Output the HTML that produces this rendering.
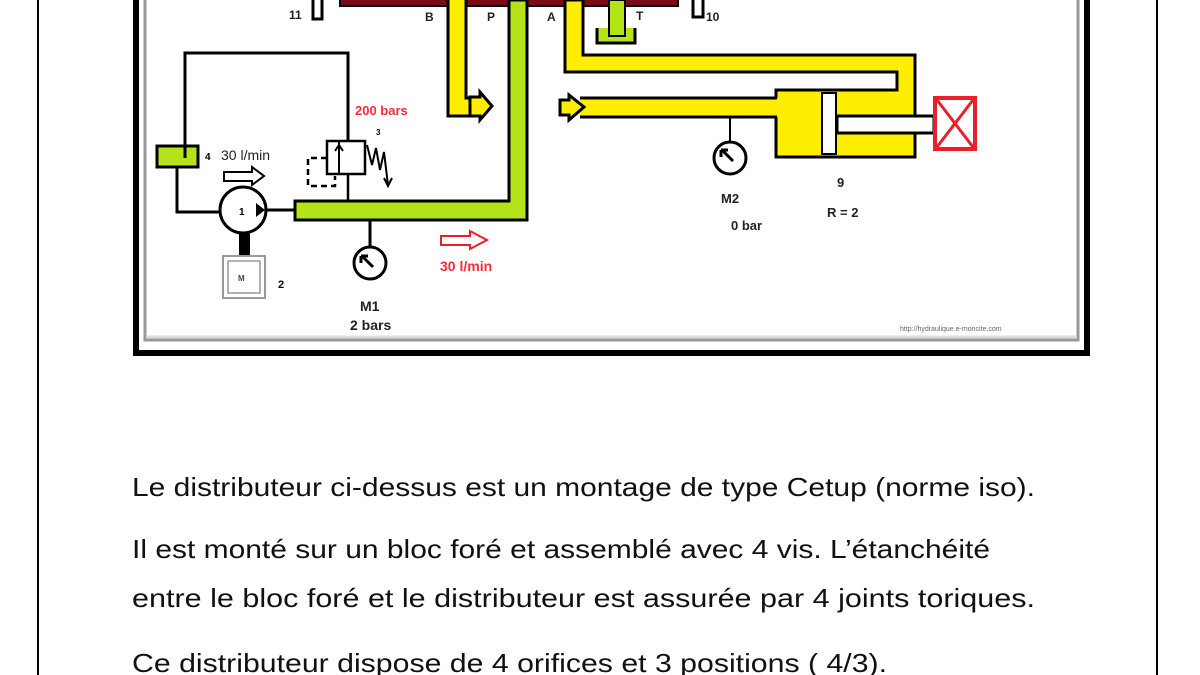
<!DOCTYPE html>
<html><head><meta charset="utf-8"><style>
html,body{margin:0;padding:0;background:#fff;width:1200px;height:675px;overflow:hidden}
svg{display:block}
</style></head><body>
<svg width="1200" height="675" viewBox="0 0 1200 675" xmlns="http://www.w3.org/2000/svg" font-family="Liberation Sans, sans-serif">
<line x1="38" y1="0" x2="38" y2="675" stroke="#000" stroke-width="2"/>
<line x1="1157" y1="0" x2="1157" y2="675" stroke="#000" stroke-width="2"/>
<rect x="136" y="-10" width="951" height="363" fill="none" stroke="#000" stroke-width="6"/>
<rect x="145" y="-10" width="933" height="350" fill="none" stroke="#999" stroke-width="3"/>
<line x1="146" y1="337" x2="1077" y2="337" stroke="#ddd" stroke-width="3"/>

<rect x="340" y="-4" width="338" height="10" fill="#7a0a14" stroke="#000" stroke-width="2"/>
<rect x="313" y="-3" width="9" height="22" fill="#fff" stroke="#000" stroke-width="3"/>
<rect x="693" y="-3" width="10" height="20" fill="#fff" stroke="#000" stroke-width="3"/>
<g font-weight="bold" font-size="12" fill="#222">
<text x="289" y="19">11</text><text x="706" y="21">10</text>
<text x="425" y="21">B</text><text x="487" y="21">P</text><text x="547" y="21">A</text><text x="636" y="20">T</text>
</g>

<path d="M448,0 V115 H472 V97 H466 V0 Z" fill="#ffee00"/>
<path d="M448,0 V116 H472 M466,0 V98 H472" fill="none" stroke="#000" stroke-width="3"/>
<path d="M470,97 H480 V92 L492,106 L480,120 V116 H470 Z" fill="#ffee00" stroke="#000" stroke-width="3"/>

<path d="M509,0 V201 H295 V220 H527 V0 Z" fill="#b5e31a" stroke="#000" stroke-width="3"/>

<path d="M597,28 V43 H635 V28" fill="#b5e31a" stroke="#000" stroke-width="3"/>
<rect x="609" y="0" width="16" height="36" fill="#b5e31a" stroke="#000" stroke-width="2"/>

<path d="M565,0 V72 H897 V90 H776 V157 H915 V55 H583 V0 Z" fill="#ffee00" stroke="#000" stroke-width="3"/>
<rect x="822" y="93" width="14" height="61" fill="#fff" stroke="#000" stroke-width="2"/>
<rect x="837" y="116" width="97" height="17" fill="#fff" stroke="#000" stroke-width="3"/>
<rect x="580" y="98" width="198" height="19" fill="#ffee00"/>
<path d="M580,98 H777 M580,117 H777" stroke="#000" stroke-width="3"/>
<path d="M560,100 H569 V95 L584,107 L569,120 V115 H560 Z" fill="#ffee00" stroke="#000" stroke-width="3"/>
<rect x="935" y="98" width="40" height="51" fill="#fff" stroke="#e8202a" stroke-width="4"/>
<path d="M937,100 L973,147 M973,100 L937,147" stroke="#e8202a" stroke-width="3"/>
<line x1="730" y1="118" x2="730" y2="142" stroke="#000" stroke-width="2"/>
<circle cx="730" cy="158" r="16" fill="#fff" stroke="#000" stroke-width="3"/>
<path d="M733,161 L722,150 M721,150 H728 M721,150 V157" stroke="#000" stroke-width="3"/>
<g font-weight="bold" font-size="13" fill="#222">
<text x="721" y="203">M2</text><text x="731" y="230">0 bar</text>
<text x="837" y="187">9</text><text x="827" y="217">R = 2</text>
</g>

<path d="M185,155 V53 H348 V140" fill="none" stroke="#000" stroke-width="3"/>
<rect x="157" y="146" width="41" height="21" fill="#b5e31a" stroke="#000" stroke-width="3"/>
<line x1="185" y1="146" x2="185" y2="158" stroke="#000" stroke-width="3"/>
<path d="M177,168 V212 H222 M265,210 H296" fill="none" stroke="#000" stroke-width="3"/>
<circle cx="243" cy="210" r="23" fill="#fff" stroke="#000" stroke-width="3"/>
<path d="M256,203 L265,210 L256,217 Z" fill="#000"/>
<text x="239" y="215" font-size="10" font-weight="bold">1</text>
<rect x="239" y="233" width="11" height="22" fill="#000"/>
<rect x="223" y="256" width="42" height="42" fill="#fff" stroke="#999" stroke-width="2"/>
<rect x="228" y="261" width="32" height="32" fill="#fff" stroke="#999" stroke-width="1.5"/>
<text x="238" y="281" font-size="8" font-weight="bold" fill="#444">M</text>
<text x="278" y="288" font-size="11" font-weight="bold">2</text>
<text x="205" y="160" font-size="10" font-weight="bold">4</text>
<text x="221" y="160" font-size="14" fill="#222">30 l/min</text>
<path d="M224,172 H252 V167 L264,176 L252,185 V181 H224 Z" fill="#fff" stroke="#000" stroke-width="2"/>
<rect x="327" y="141" width="38" height="33" fill="#fff" stroke="#000" stroke-width="2.5"/>
<line x1="339" y1="141" x2="339" y2="174" stroke="#000" stroke-width="2"/>
<path d="M339,170 V146 M335,151 L339,145 L343,151" fill="none" stroke="#000" stroke-width="2"/>
<line x1="348" y1="174" x2="348" y2="201" stroke="#000" stroke-width="2.5"/>
<path d="M327,158 H308 V186 H335 V176" fill="none" stroke="#000" stroke-width="2.5" stroke-dasharray="6,4"/>
<path d="M367,145 L372,165 L376,148 L380,170 L384,152 L388,185 M384,178 L388,186 L392,178" fill="none" stroke="#000" stroke-width="2"/>
<text x="355" y="115" font-size="13" font-weight="bold" fill="#ff2a3a">200 bars</text>
<text x="376" y="135" font-size="8" font-weight="bold">3</text>
<line x1="370" y1="220" x2="370" y2="247" stroke="#000" stroke-width="3"/>
<circle cx="370" cy="263" r="16" fill="#fff" stroke="#000" stroke-width="3"/>
<path d="M373,267 L362,256 M361,256 H368 M361,256 V263" stroke="#000" stroke-width="3"/>
<g font-weight="bold" font-size="14" fill="#222">
<text x="360" y="311">M1</text><text x="350" y="330">2 bars</text>
</g>
<path d="M441,236 H470 V231 L487,240 L470,249 V245 H441 Z" fill="#fff" stroke="#e8202a" stroke-width="2"/>
<text x="440" y="271" font-size="14" font-weight="bold" fill="#ff2a3a">30 l/min</text>
<text x="900" y="331" font-size="7" fill="#666">http://hydraulique.e-moncite.com</text>

<g font-size="26" fill="#111" font-family="Liberation Sans, sans-serif">
<text x="132" y="496" textLength="903" lengthAdjust="spacingAndGlyphs">Le distributeur ci-dessus est un montage de type Cetup (norme iso).</text>
<text x="132" y="558" textLength="858" lengthAdjust="spacingAndGlyphs">Il est monté sur un bloc foré et assemblé avec 4 vis. L’étanchéité</text>
<text x="132" y="607" textLength="903" lengthAdjust="spacingAndGlyphs">entre le bloc foré et le distributeur est assurée par 4 joints toriques.</text>
<text x="132" y="672" textLength="755" lengthAdjust="spacingAndGlyphs">Ce distributeur dispose de 4 orifices et 3 positions ( 4/3).</text>
</g>
</svg>
</body></html>
